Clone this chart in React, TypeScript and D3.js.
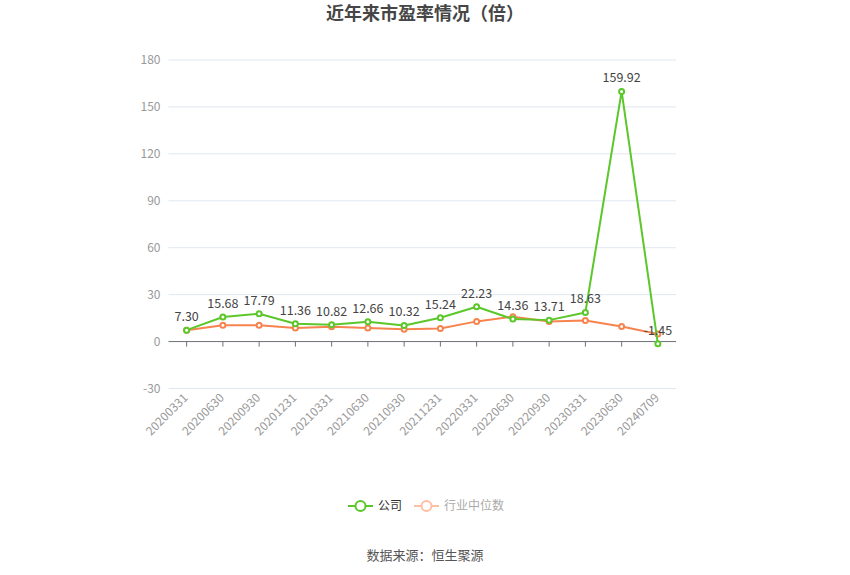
import React, { useRef, useEffect } from "react";
import * as d3 from "d3";

const categories = [
  "20200331", "20200630", "20200930", "20201231", "20210331", "20210630", "20210930",
  "20211231", "20220331", "20220630", "20220930", "20230331", "20230630", "20240709",
];
const companyPE = [7.3, 15.68, 17.79, 11.36, 10.82, 12.66, 10.32, 15.24, 22.23, 14.36, 13.71, 18.63, 159.92, -1.45];
const industryPE = [7.2, 10.5, 10.5, 8.6, 9.4, 8.6, 7.9, 8.4, 12.9, 15.9, 12.9, 13.5, 9.6, 4.9];
const yTicks = [-30, 0, 30, 60, 90, 120, 150, 180];

const GREEN = "#5cc72a";
const ORANGE = "#f7844f";
const FONT = "'Microsoft YaHei', 'Noto Sans CJK SC', sans-serif";

const App: React.FC = () => {
  const svgRef = useRef<SVGSVGElement | null>(null);

  useEffect(() => {
    if (!svgRef.current) return;
    document.body.style.margin = "0";
    const width = 850;
    const height = 575;
    const left = 168.5;
    const right = 676;
    const top = 60;
    const bottom = 388.5;

    const svg = d3.select(svgRef.current)
      .attr("width", width)
      .attr("height", height)
      .attr("viewBox", `0 0 ${width} ${height}`)
      .style("display", "block")
      .style("font-family", FONT);
    svg.selectAll("*").remove();

    const x = d3.scaleBand<string>().domain(categories).range([left, right]);
    const cx = (c: string) => (x(c) as number) + x.bandwidth() / 2;
    const y = d3.scaleLinear().domain([-30, 180]).range([bottom, top]);

    svg.append("text")
      .attr("x", width / 2)
      .attr("y", 14)
      .attr("dy", "0.35em")
      .attr("text-anchor", "middle")
      .attr("font-size", 18)
      .attr("font-weight", "bold")
      .attr("fill", "#464646")
      .text("近年来市盈率情况（倍）");

    // grid + y labels
    const yAxis = svg.append("g");
    yAxis.selectAll("line")
      .data(yTicks.filter(t => t !== 0))
      .join("line")
      .attr("x1", left).attr("x2", right)
      .attr("y1", d => y(d)).attr("y2", d => y(d))
      .attr("stroke", "#e0e6f1").attr("stroke-width", 1);
    yAxis.selectAll("text")
      .data(yTicks)
      .join("text")
      .attr("x", left - 8)
      .attr("y", d => y(d))
      .attr("dy", "0.35em")
      .attr("text-anchor", "end")
      .attr("font-size", 12)
      .attr("fill", "#999")
      .text(d => d);

    // x axis at zero
    const xAxis = svg.append("g").attr("transform", `translate(0,${y(0)})`);
    xAxis.append("line")
      .attr("x1", left).attr("x2", right)
      .attr("stroke", "#6e7079").attr("stroke-width", 1);
    xAxis.selectAll("line.tick")
      .data(categories)
      .join("line")
      .attr("class", "tick")
      .attr("x1", d => cx(d)).attr("x2", d => cx(d))
      .attr("y1", 0).attr("y2", 5)
      .attr("stroke", "#6e7079");

    svg.append("g")
      .selectAll("text")
      .data(categories)
      .join("text")
      .attr("transform", d => `translate(${cx(d) - 1},${bottom + 7}) rotate(-45)`)
      .attr("text-anchor", "end")
      .attr("dy", "0.35em")
      .attr("font-size", 12)
      .attr("fill", "#999")
      .text(d => d);

    const line = d3.line<number>()
      .x((_, i) => cx(categories[i]))
      .y(d => y(d));

    const drawSeries = (values: number[], color: string) => {
      const g = svg.append("g");
      g.append("path")
        .attr("d", line(values)!)
        .attr("fill", "none")
        .attr("stroke", color)
        .attr("stroke-width", 2)
        .attr("stroke-linejoin", "round");
      g.selectAll("circle")
        .data(values)
        .join("circle")
        .attr("cx", (_, i) => cx(categories[i]))
        .attr("cy", d => y(d))
        .attr("r", 2.5)
        .attr("fill", "#fff")
        .attr("stroke", color)
        .attr("stroke-width", 2);
    };

    drawSeries(industryPE, ORANGE);
    drawSeries(companyPE, GREEN);

    svg.append("g")
      .selectAll("text")
      .data(companyPE)
      .join("text")
      .attr("x", (_, i) => cx(categories[i]))
      .attr("y", d => y(d) - 9)
      .attr("text-anchor", "middle")
      .attr("font-size", 12.5)
      .attr("fill", "#444")
      .text(d => d.toFixed(2));

    // legend
    const legend = svg.append("g").attr("transform", "translate(0,506)");
    const items = [
      { name: "公司", color: GREEN, text: "#333", x: 348 },
      { name: "行业中位数", color: "#ffbfa5", text: "#aaa", x: 414 },
    ];
    items.forEach(it => {
      const g = legend.append("g").attr("transform", `translate(${it.x},0)`);
      g.append("line").attr("x1", 0).attr("x2", 25)
        .attr("stroke", it.color).attr("stroke-width", 2);
      g.append("circle").attr("cx", 12.5).attr("r", 5)
        .attr("fill", "#fff").attr("stroke", it.color).attr("stroke-width", 2);
      g.append("text").attr("x", 30).attr("dy", "0.35em")
        .attr("font-size", 12).attr("fill", it.text).text(it.name);
    });

    svg.append("text")
      .attr("x", width / 2)
      .attr("y", 555)
      .attr("dy", "0.35em")
      .attr("text-anchor", "middle")
      .attr("font-size", 13)
      .attr("fill", "#555")
      .text("数据来源：恒生聚源");
  }, []);

  return <svg ref={svgRef} />;
};

export default App;
